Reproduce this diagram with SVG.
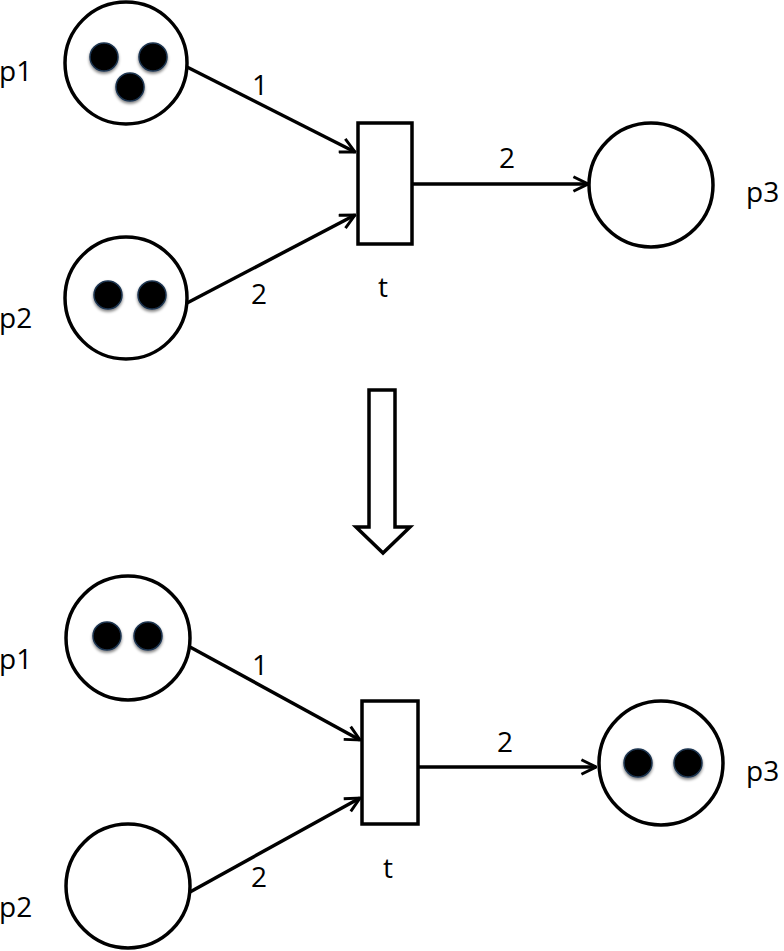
<svg xmlns="http://www.w3.org/2000/svg" width="784" height="951" viewBox="0 0 784 951">
<defs>
<style>
.place{fill:#fff;stroke:#000;stroke-width:3.5}
.trans{fill:#fff;stroke:#000;stroke-width:3.5}
.arc{fill:none;stroke:#000;stroke-width:3.5;marker-end:url(#ah)}
.tok{fill:#000;stroke:#1d3550;stroke-width:1.5;filter:url(#sh)}
.lbl{font-family:"Open Sans","Liberation Sans",sans-serif;font-size:28px;fill:#000}
</style>
<marker id="ah" viewBox="0 0 12 12" refX="11" refY="6" markerWidth="5" markerHeight="5" markerUnits="strokeWidth" orient="auto">
<path d="M1,1 L11,6 L1,11" fill="none" stroke="#000" stroke-width="2"/>
</marker>
<filter id="sh" x="-50%" y="-50%" width="200%" height="200%">
<feGaussianBlur in="SourceAlpha" stdDeviation="1.5"/>
<feOffset dy="2" result="b"/>
<feComponentTransfer><feFuncA type="linear" slope="0.5"/></feComponentTransfer>
<feMerge><feMergeNode/><feMergeNode in="SourceGraphic"/></feMerge>
</filter>
</defs>
<rect width="784" height="951" fill="#fff"/>
<g id="connectors">
<line class="arc" x1="187" y1="67" x2="355" y2="152"/>
<line class="arc" x1="187" y1="303" x2="355" y2="215"/>
<line class="arc" x1="412" y1="184" x2="588" y2="184"/>
<line class="arc" x1="190" y1="647" x2="360" y2="740"/>
<line class="arc" x1="190" y1="892" x2="360" y2="798"/>
<line class="arc" x1="418" y1="767" x2="596" y2="767"/>
<text class="lbl" x="252" y="95">1</text>
<text class="lbl" x="251" y="304">2</text>
<text class="lbl" x="499" y="168">2</text>
<text class="lbl" x="252" y="675">1</text>
<text class="lbl" x="251" y="887">2</text>
<text class="lbl" x="497" y="752">2</text>
</g>
<g id="p1-top">
<circle class="place" cx="126" cy="63" r="61"/>
<circle class="tok" cx="104" cy="57" r="14"/>
<circle class="tok" cx="153" cy="57" r="14"/>
<circle class="tok" cx="130" cy="87" r="14"/>
<text class="lbl" x="-1" y="81">p1</text>
</g>
<g id="p2-top">
<circle class="place" cx="126" cy="298" r="61"/>
<circle class="tok" cx="108" cy="295" r="14"/>
<circle class="tok" cx="152" cy="295" r="14"/>
<text class="lbl" x="-1" y="328">p2</text>
</g>
<g id="t-top">
<rect class="trans" x="358" y="123" width="54" height="121"/>
<text class="lbl" x="378" y="297">t</text>
</g>
<g id="p3-top">
<circle class="place" cx="651" cy="185" r="62"/>
<text class="lbl" x="746" y="202">p3</text>
</g>
<g id="arrow-down">
<path d="M369,390 L395,390 L395,527 L410,527 L383,553 L356,527 L369,527 Z" fill="#fff" stroke="#000" stroke-width="3.5" stroke-linejoin="miter"/>
</g>
<g id="p1-bottom">
<circle class="place" cx="128" cy="638" r="62"/>
<circle class="tok" cx="107" cy="636" r="14"/>
<circle class="tok" cx="148" cy="636" r="14"/>
<text class="lbl" x="-1" y="669">p1</text>
</g>
<g id="p2-bottom">
<circle class="place" cx="128" cy="886" r="62"/>
<text class="lbl" x="-1" y="917">p2</text>
</g>
<g id="t-bottom">
<rect class="trans" x="362" y="701" width="56" height="123"/>
<text class="lbl" x="383" y="878">t</text>
</g>
<g id="p3-bottom">
<circle class="place" cx="661" cy="763" r="62"/>
<circle class="tok" cx="638" cy="763" r="14"/>
<circle class="tok" cx="688" cy="763" r="14"/>
<text class="lbl" x="746" y="781">p3</text>
</g>
</svg>
